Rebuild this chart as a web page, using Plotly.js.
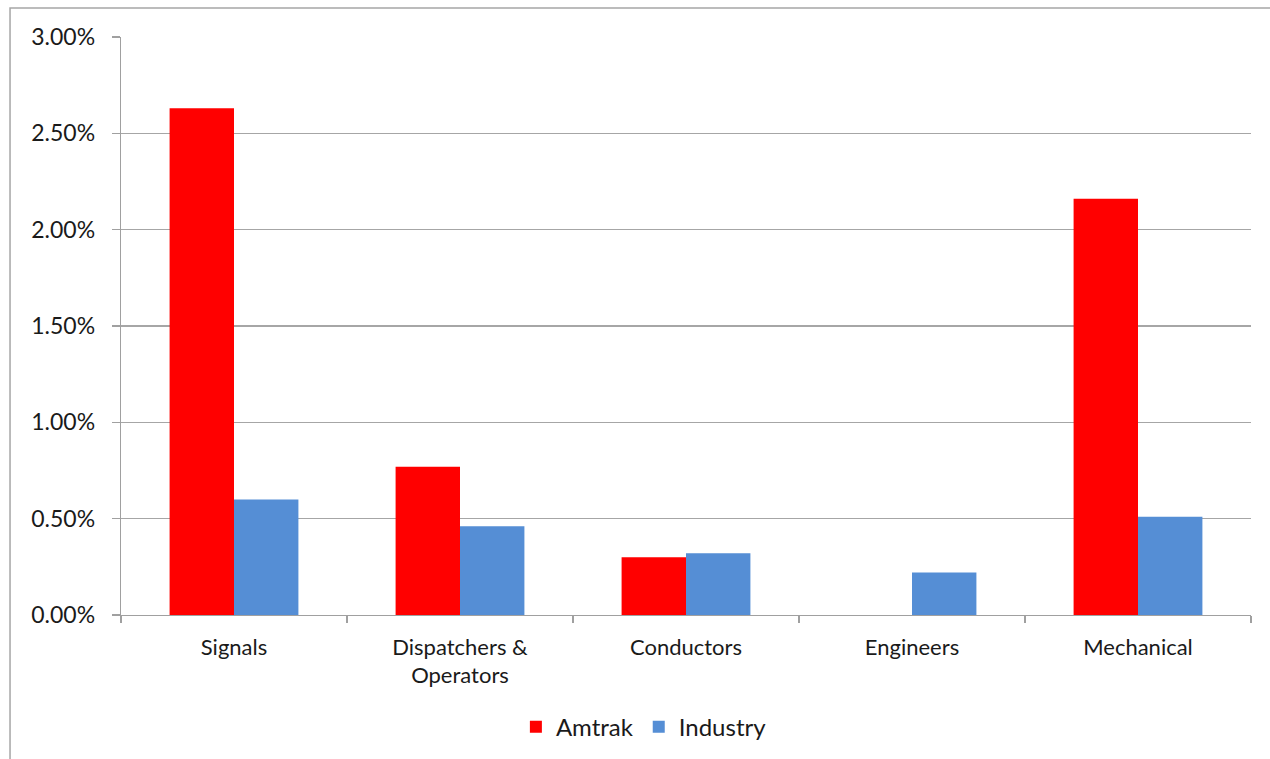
<!DOCTYPE html>
<html>
<head>
<meta charset="utf-8">
<script src="https://cdn.plot.ly/plotly-3.0.1.min.js"></script>
<style>
html,body{margin:0;padding:0;background:#fff;}
#chart{width:1270px;height:759px;}
</style>
</head>
<body>
<div id="chart"></div>
<script>
const categories = ["Signals", "Dispatchers &<br>Operators", "Conductors", "Engineers", "Mechanical"];
const amtrakValues = [0.0263, 0.0077, 0.0030, 0.0, 0.0216];
const industryValues = [0.0060, 0.0046, 0.0032, 0.0022, 0.0051];
const yTickValues = [0, 0.005, 0.01, 0.015, 0.02, 0.025, 0.03];

const FONT = "Lato, 'Open Sans', sans-serif";
const traces = [
  {type: "bar", name: "Amtrak", x: categories, y: amtrakValues,
   marker: {color: "#FF0000"}, hoverinfo: "skip"},
  {type: "bar", name: "Industry", x: categories, y: industryValues,
   marker: {color: "#558ED5"}, hoverinfo: "skip"}
];

const layout = {
  width: 1270, height: 759,
  margin: {l: 121, r: 19, t: 37, b: 144, pad: 0, autoexpand: false},
  paper_bgcolor: "#fff", plot_bgcolor: "#fff",
  font: {family: FONT, size: 23, color: "#1a1a1a"},
  barmode: "group", bargap: 0.43, bargroupgap: 0,
  showlegend: true,
  legend: {orientation: "h", xref: "container", yref: "container",
           x: 0.507, xanchor: "center", y: 0.042, yanchor: "middle",
           font: {family: FONT, size: 24, color: "#1a1a1a"}, itemwidth: 30, traceorder: "normal"},
  xaxis: {
    type: "category", showline: true, linecolor: "#a0a0a0", linewidth: 1.3,
    ticks: "outside", tickson: "boundaries", ticklen: 7, tickcolor: "#a0a0a0", tickwidth: 1.3,
    ticklabelstandoff: 12,
    tickfont: {family: FONT, size: 22, color: "#1a1a1a"}, showgrid: false, automargin: false
  },
  yaxis: {
    range: [0, 0.03], tickvals: yTickValues, tickformat: ".2%",
    showline: true, linecolor: "#a0a0a0", linewidth: 1.3,
    ticks: "outside", ticklen: 8, tickcolor: "#a0a0a0", tickwidth: 1.3,
    ticklabelstandoff: 12,
    showgrid: true, gridcolor: "#a6a6a6", gridwidth: 1.2, zeroline: false,
    tickfont: {family: FONT, size: 23, color: "#1a1a1a"}, automargin: false
  },
  shapes: [{
    type: "path", xref: "paper", yref: "paper",
    path: "M -0.0982,-0.4 L -0.0982,1.0502 L 1.2,1.0502",
    line: {color: "#a6a6a6", width: 1.5}
  }]
};

Plotly.newPlot("chart", traces, layout, {displayModeBar: false, staticPlot: true});
</script>
</body>
</html>
